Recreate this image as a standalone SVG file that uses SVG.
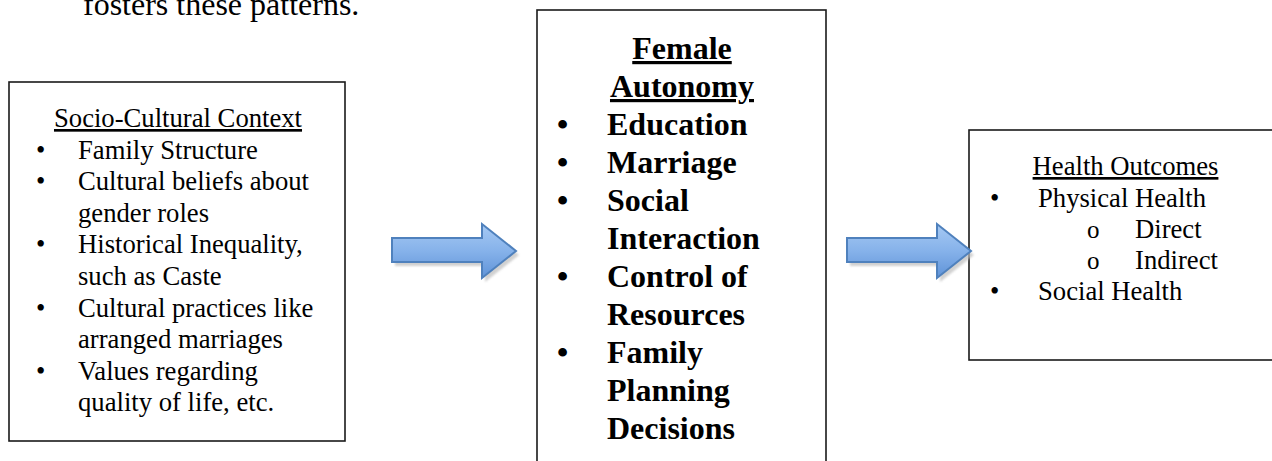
<svg xmlns="http://www.w3.org/2000/svg" width="1272" height="461" viewBox="0 0 1272 461">
<style>
.box{fill:#fff;stroke:#1a1a1a;stroke-width:1.6}
.t{font-family:"Liberation Serif","Times New Roman",serif;font-size:26.67px;fill:#000}
.b{font-family:"Liberation Serif","Times New Roman",serif;font-size:32px;font-weight:bold;fill:#000}
.h{font-family:"Liberation Serif","Times New Roman",serif;font-size:32px;fill:#000}
.u{text-decoration:underline}
.o{font-family:"Liberation Serif","Times New Roman",serif;font-size:25px;fill:#000}
.arrow{fill:url(#ag);stroke:#4f81bd;stroke-width:2;stroke-linejoin:miter}
.shadow{fill:#bdbdbd;opacity:0.7;filter:url(#blur)}
</style>
<defs>
<linearGradient id="ag" x1="0" y1="0" x2="0" y2="1">
<stop offset="0" stop-color="#a6c9f3"/>
<stop offset="0.5" stop-color="#86b2ea"/>
<stop offset="1" stop-color="#5f93d8"/>
</linearGradient>
<filter id="blur" x="-10%" y="-20%" width="120%" height="140%"><feGaussianBlur stdDeviation="1.2"/></filter>
<path id="arr" d="M0,238 L90,238 L90,224 L124,251 L90,278 L90,262 L0,262 Z"/>
</defs>
<rect width="1272" height="461" fill="#fff"/>
<text class="h" x="83" y="15">fosters these patterns.</text>

<g id="socio-cultural-context">
<rect class="box" x="9" y="82" width="336" height="359"/>
<text class="t u" x="178" y="127" text-anchor="middle">Socio-Cultural Context</text>
<text class="t" x="36" y="158.6">•</text><text class="t" x="78" y="158.6">Family Structure</text>
<text class="t" x="36" y="190.2">•</text><text class="t" x="78" y="190.2">Cultural beliefs about</text>
<text class="t" x="78" y="221.8">gender roles</text>
<text class="t" x="36" y="253.4">•</text><text class="t" x="78" y="253.4">Historical Inequality,</text>
<text class="t" x="78" y="285">such as Caste</text>
<text class="t" x="36" y="316.6">•</text><text class="t" x="78" y="316.6">Cultural practices like</text>
<text class="t" x="78" y="348.2">arranged marriages</text>
<text class="t" x="36" y="379.8">•</text><text class="t" x="78" y="379.8">Values regarding</text>
<text class="t" x="78" y="411.4">quality of life, etc.</text>
</g>

<g id="female-autonomy">
<rect class="box" x="537" y="10" width="289" height="470"/>
<text class="b u" x="682" y="59" text-anchor="middle">Female</text>
<text class="b u" x="682" y="97" text-anchor="middle">Autonomy</text>
<text class="b" x="557" y="135">•</text><text class="b" x="607" y="135">Education</text>
<text class="b" x="557" y="173">•</text><text class="b" x="607" y="173">Marriage</text>
<text class="b" x="557" y="211">•</text><text class="b" x="607" y="211">Social</text>
<text class="b" x="607" y="249">Interaction</text>
<text class="b" x="557" y="287">•</text><text class="b" x="607" y="287">Control of</text>
<text class="b" x="607" y="325">Resources</text>
<text class="b" x="557" y="363">•</text><text class="b" x="607" y="363">Family</text>
<text class="b" x="607" y="401">Planning</text>
<text class="b" x="607" y="439">Decisions</text>
</g>

<g id="health-outcomes">
<rect class="box" x="969" y="130" width="330" height="230"/>
<text class="t u" x="1125.5" y="175" text-anchor="middle">Health Outcomes</text>
<text class="t" x="990" y="206.5">•</text><text class="t" x="1038" y="206.5">Physical Health</text>
<text class="o" x="1087" y="237.5">o</text><text class="t" x="1135" y="237.5">Direct</text>
<text class="o" x="1087" y="268.5">o</text><text class="t" x="1135" y="268.5">Indirect</text>
<text class="t" x="990" y="299.5">•</text><text class="t" x="1038" y="299.5">Social Health</text>
</g>

<g id="connectors">
<g id="arrow-1">
<use href="#arr" class="shadow" transform="translate(395,4)"/>
<use href="#arr" class="arrow" transform="translate(392,0)"/>
</g>
<g id="arrow-2">
<use href="#arr" class="shadow" transform="translate(850,4)"/>
<use href="#arr" class="arrow" transform="translate(847,0)"/>
</g>
</g>
</svg>
